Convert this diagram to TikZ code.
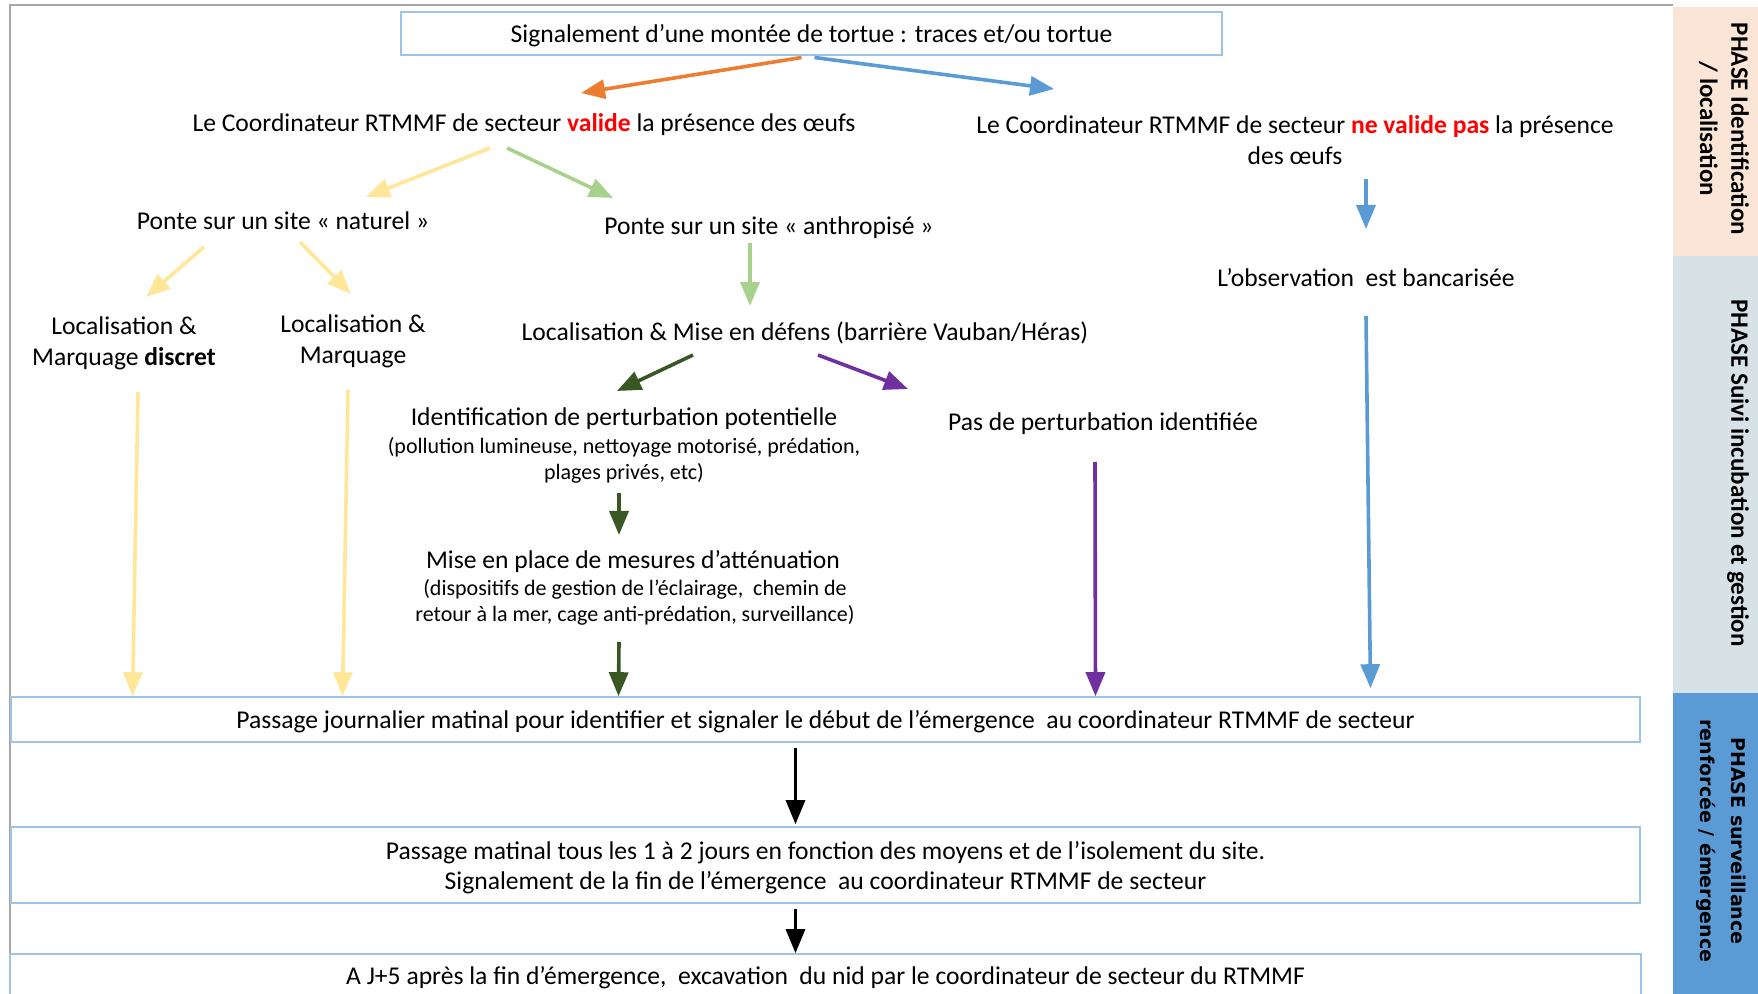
\documentclass[tikz,border=0pt]{standalone}
\usepackage{fontspec}
\setmainfont{Carlito}
\newfontfamily\widebold{DejaVu Sans}
\usetikzlibrary{calc, positioning, arrows.meta}

\definecolor{boxblue}{HTML}{9DC3E6}
\definecolor{framegray}{HTML}{A6A6A6}
\definecolor{arrorange}{HTML}{ED7D31}
\definecolor{arrblue}{HTML}{5B9BD5}
\definecolor{arryellow}{HTML}{FFE699}
\definecolor{arrlgreen}{HTML}{A9D18E}
\definecolor{arrdgreen}{HTML}{385723}
\definecolor{arrpurple}{HTML}{7030A0}
\definecolor{valred}{HTML}{FF0000}
\definecolor{phasepeach}{HTML}{FBE5D6}
\definecolor{phasegray}{HTML}{D6E2E6}
\definecolor{phaseblue}{HTML}{5B9BD5}

\newcommand{\valword}[1]{{\color{valred}\bfseries #1}}

\begin{document}
\begin{tikzpicture}[
  x=0.5pt, y=-0.5pt,
  txt/.style={align=center, inner sep=0pt, text depth=0pt, font=\fontsize{12.8}{15.5}\selectfont},
  note/.style={align=center, inner sep=0pt, text depth=0pt, font=\fontsize{11}{13}\selectfont},
  frame/.style={draw=boxblue, line width=0.8pt, minimum width=814.5pt, inner sep=0pt, text depth=0pt, align=center, font=\fontsize{12.8}{15}\selectfont},
  phase/.style={rotate=-90, align=center, inner sep=0pt, font=\bfseries\fontsize{12.5}{15.7}\selectfont},
  arr/.style={-{Triangle[length=12pt, width=9.5pt]}, line width=1.8pt}
]
\useasboundingbox (0,0) rectangle (1758,994);

% side bands
\fill[phasepeach] (1673,7) rectangle (1758,256);
\fill[phasegray]  (1673,256) rectangle (1758,693);
\fill[phaseblue]  (1673,693) rectangle (1758,994);
\draw[framegray, line width=1pt] (10,994) -- (10,5) -- (1673,5);

\node (ph1) [phase] at (1724,129) {PHASE Identification\\/ localisation};
\node (ph2) [phase] at (1738,473) {PHASE Suivi incubation et gestion};
\node (ph3) [phase, font=\widebold\bfseries\fontsize{9.5}{15.7}\selectfont] at (1721,841) {PHASE surveillance\\renforcée / émergence};

% nodes
\node (signal) [frame, minimum width=410.5pt, minimum height=21.5pt] at (811.5,33.5) {Signalement d’une montée de tortue : traces et/ou tortue};
\node (valid) [txt] at (524,123) {Le Coordinateur RTMMF de secteur \valword{valide} la présence des œufs};
\node (novalid) [txt] at (1295,140) {Le Coordinateur RTMMF de secteur \valword{ne valide pas} la présence\\des œufs};
\node (naturel) [txt] at (283,221) {Ponte sur un site « naturel »};
\node (anthro) [txt] at (769,226) {Ponte sur un site « anthropisé »};
\node (bancar) [txt] at (1366,277) {L’observation~ est bancarisée};
\node (discret) [txt] at (124,341) {Localisation \&\\Marquage \textbf{discret}};
\node (marquage) [txt] at (353,339) {Localisation \&\\Marquage};
\node (defens) [txt] at (805,331) {Localisation \& Mise en défens (barrière Vauban/Héras)};
\node (ident) [txt] at (624,417) {Identification de perturbation potentielle};
\node (identnote) [note] at (624,458) {(pollution lumineuse, nettoyage motorisé, prédation,\\plages privés, etc)};
\node (nopert) [txt] at (1103,422) {Pas de perturbation identifiée};
\node (attn) [txt] at (633,559) {Mise en place de mesures d’atténuation};
\node (attnnote) [note] at (635,600) {(dispositifs de gestion de l’éclairage,~ chemin de\\retour à la mer, cage anti-prédation, surveillance)};

\node (daily) [frame, minimum height=22.5pt] at (825.5,719.5) {Passage journalier matinal pour identifier et signaler le début de l’émergence~ au coordinateur RTMMF de secteur};
\node (every) [frame, minimum height=38pt] at (825.5,865) {Passage matinal tous les 1 à 2 jours en fonction des moyens et de l’isolement du site.\\Signalement de la fin de l’émergence~ au coordinateur RTMMF de secteur};
\node (excav) [frame, draw=none, minimum height=20pt] at (825.5,975) {A J+5 après la fin d’émergence,~ excavation~ du nid par le coordinateur de secteur du RTMMF};
\draw[boxblue, line width=0.8pt] (excav.south west) |- (excav.north east) -- (excav.south east);

% connectors
\draw[arr, arrorange] ($(signal)+(-10,24)$) -- ($(valid)+(57,-30)$);
\draw[arr, arrblue] ($(signal)+(3,24)$) -- ($(novalid)+(-241,-51)$);
\draw[arr, arryellow] ($(valid)+(-34,25)$) -- ($(naturel)+(83,-24)$);
\draw[arr, arrlgreen] ($(valid)+(-17,25)$) -- ($(anthro)+(-156,-28)$);
\draw[arr, arrblue] ($(novalid)+(71,39)$) -- ($(bancar)+(0,-48)$);
\draw[arr, arryellow] ($(naturel)+(-79,26)$) -- ($(discret)+(22,-44)$);
\draw[arr, arryellow] ($(naturel)+(17,21)$) -- ($(marquage)+(-2,-45)$);
\draw[arr, arrlgreen] ($(anthro)+(-19,17)$) -- ($(defens)+(-55,-25)$);
\draw[arr, arrdgreen] ($(defens)+(-112,24)$) -- ($(ident)+(-7,-26)$);
\draw[arr, arrpurple] ($(defens)+(13,24)$) -- ($(nopert)+(-195,-33)$);
\draw[arr, arrdgreen] ($(identnote)+(-5,35)$) -- ($(attn)+(-14,-24)$);
\draw[arr, arrdgreen] ($(attnnote)+(-16,42)$) -- ($(daily.north)+(-207,0)$);
\draw[arr, arrpurple] ($(nopert)+(-8,40)$) -- ($(daily.north)+(270,0)$);
\draw[arr, arrblue] ($(bancar)+(0,39)$) -- ($(daily.north)+(545,-8)$);
\draw[arr, arryellow] ($(discret)+(14,51)$) -- ($(daily.north)+(-693,0)$);
\draw[arr, arryellow] ($(marquage)+(-5,51)$) -- ($(daily.north)+(-483,0)$);
\draw[arr, black, line width=1.5pt] ($(daily.south)+(-30,5)$) -- ($(every.north)+(-30,-2)$);
\draw[arr, black, line width=1.5pt] ($(every.south)+(-30,5)$) -- ($(excav.north)+(-30,-1)$);
\end{tikzpicture}
\end{document}
